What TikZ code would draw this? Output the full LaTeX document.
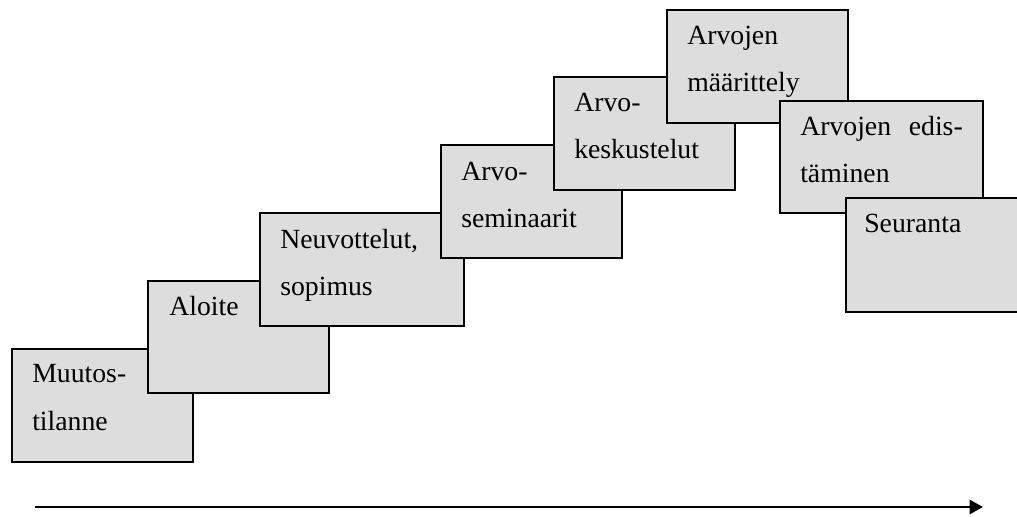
\documentclass[tikz,border=0pt]{standalone}
\usepackage{fontspec}
\setmainfont{Liberation Serif}
\usetikzlibrary{arrows.meta}
\definecolor{boxgray}{HTML}{DDDDDD}
\tikzset{
  stagebox/.style={draw=black, fill=boxgray, line width=2pt},
  lbl/.style={anchor=base west, inner sep=0pt, font=\fontsize{20.8}{24}\selectfont},
  lblr/.style={anchor=base east, inner sep=0pt, font=\fontsize{20.8}{24}\selectfont},
  timeline/.style={line width=2pt, -{Triangle[length=10pt, width=10.5pt]}}
}
\begin{document}
\begin{tikzpicture}[x=0.75pt, y=-0.75pt]
\useasboundingbox (0,0) rectangle (1017,517);
\clip (0,0) rectangle (1017,517);
% box 1
\draw[stagebox] (12,349) rectangle (193,462);
\node[lbl] (t1a) at (32,382) {Muutos-};
\node[lbl] (t1b) at (32,430) {tilanne};
% box 2
\draw[stagebox] (148,281) rectangle (329,393);
\node[lbl] (t2a) at (169,315) {Aloite};
% box 3
\draw[stagebox] (260,213) rectangle (464,326);
\node[lbl] (t3a) at (280,248) {Neuvottelut,};
\node[lbl] (t3b) at (280,295) {sopimus};
% box 4
\draw[stagebox] (441,145) rectangle (622,258);
\node[lbl] (t4a) at (461,180) {Arvo-};
\node[lbl] (t4b) at (461,227) {seminaarit};
% box 5
\draw[stagebox] (554,77) rectangle (735,190);
\node[lbl] (t5a) at (574,112) {Arvo-};
\node[lbl] (t5b) at (574,158) {keskustelut};
% box 6
\draw[stagebox] (667,10) rectangle (848,123);
\node[lbl] (t6a) at (687,45) {Arvojen};
\node[lbl] (t6b) at (687,91) {määrittely};
% box 7
\draw[stagebox] (780,101) rectangle (983,213);
\node[lbl] (t7a) at (800,135) {Arvojen};
\node[lblr] (t7b) at (963,135) {edis-};
\node[lbl] (t7c) at (800,182) {täminen};
% box 8
\draw[stagebox] (846,198) rectangle (1030,312);
\node[lbl] (t8a) at (864,232) {Seuranta};
% timeline arrow
\coordinate (arrstart) at (35,507);
\coordinate (arrend) at (983,507);
\draw[timeline] (arrstart) -- (arrend);
\end{tikzpicture}
\end{document}
